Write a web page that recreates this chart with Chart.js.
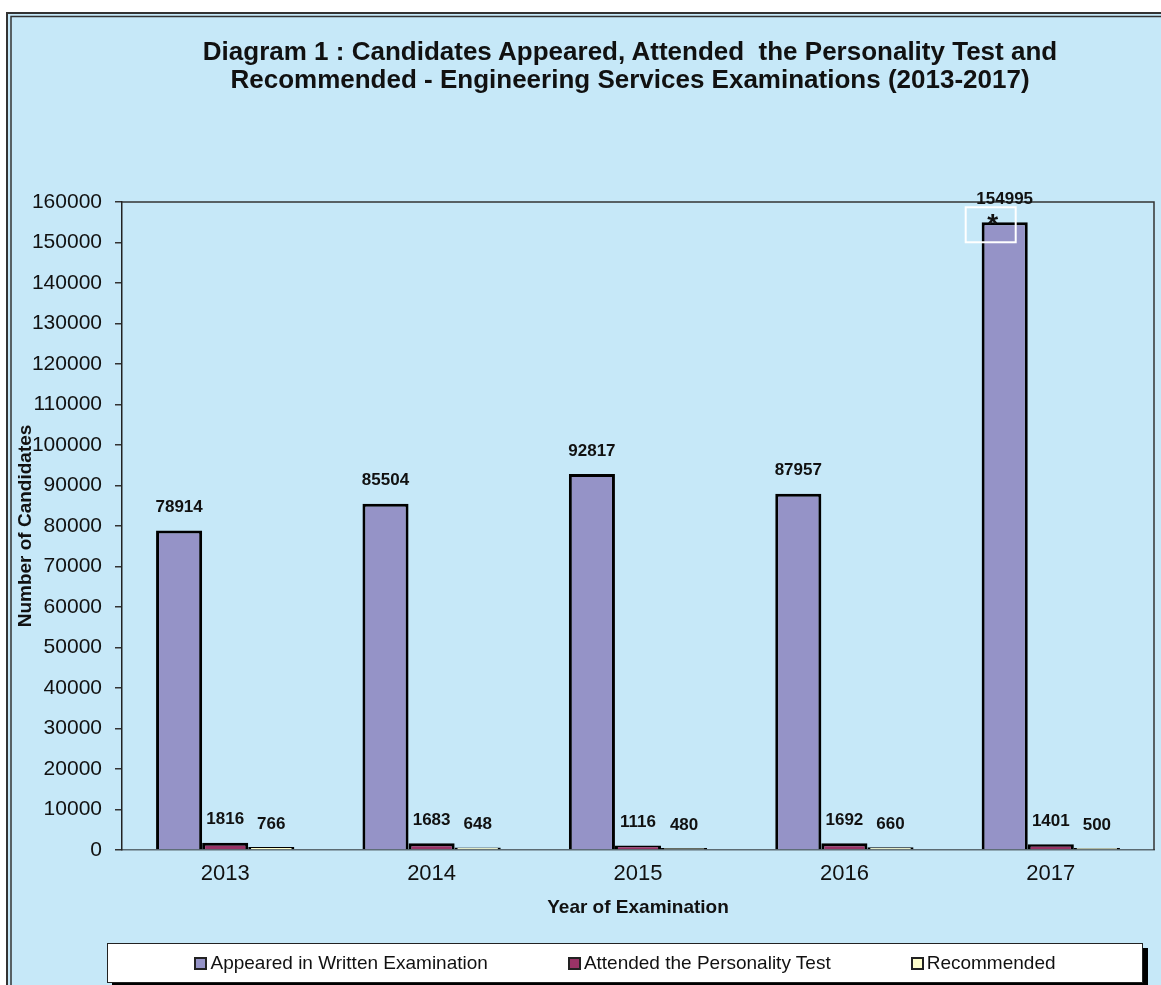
<!DOCTYPE html>
<html lang="en">
<head>
<meta charset="UTF-8">
<title>Diagram 1 - Engineering Services Examinations</title>
<script src="https://cdn.jsdelivr.net/npm/chart.js@4.4.0/dist/chart.umd.min.js"></script>
<style>
  body { margin: 0; background: #fff; font-family: "Liberation Sans", Arial, sans-serif; }
  .quadro { position: relative; width: 1161px; height: 985px; overflow: hidden; }
  #grafico { position: absolute; left: 0; top: 0; }
  .titulo {
    position: absolute; left: 80px; top: 37px; width: 1100px;
    text-align: center; font-weight: bold; font-size: 26px; line-height: 28px;
    white-space: pre; color: #111;
  }
  .legenda {
    position: absolute; left: 107px; top: 943px; width: 1036px; height: 40px;
    box-sizing: border-box; background: #fff; border: 1px solid #222;
    box-shadow: 5px 5px 0 #000;
    display: flex; justify-content: center; align-items: center; gap: 80px;
    font-size: 19px; color: #111;
  }
  .legenda-item { display: flex; align-items: center; }
  .legenda-cor { width: 9px; height: 9px; border: 2px solid #222; margin-right: 3px; }
</style>
</head>
<body>
<div class="quadro">
  <canvas id="grafico" width="1161" height="985"></canvas>
  <div class="titulo">Diagram 1 : Candidates Appeared, Attended  the Personality Test and
Recommended - Engineering Services Examinations (2013-2017)</div>
  <div class="legenda" id="legenda"></div>
</div>
<script>
// Dados do gráfico
const anos = ['2013', '2014', '2015', '2016', '2017'];
const compareceram = [78914, 85504, 92817, 87957, 154995];
const entrevista = [1816, 1683, 1116, 1692, 1401];
const recomendados = [766, 648, 480, 660, 500];

const fonte = '"Liberation Sans", Arial, sans-serif';

// Fundo azul claro e moldura dupla
const fundoPlugin = {
  id: 'fundo',
  beforeDraw(chart) {
    const { ctx, width, height } = chart;
    ctx.save();
    ctx.fillStyle = '#fff';
    ctx.fillRect(0, 0, width, height);
    ctx.fillStyle = '#c6e8f8';
    ctx.fillRect(6, 12, width, height);
    ctx.strokeStyle = '#333';
    ctx.lineWidth = 2;
    ctx.strokeRect(7, 13, width + 20, height + 20);
    ctx.lineWidth = 1.5;
    ctx.strokeRect(11, 16.5, width + 20, height + 20);
    ctx.restore();
  },
  // linhas de cima e da direita da área do gráfico
  beforeDatasetsDraw(chart) {
    const { ctx, chartArea } = chart;
    ctx.save();
    ctx.strokeStyle = '#333';
    ctx.lineWidth = 1.5;
    ctx.beginPath();
    ctx.moveTo(chartArea.left, chartArea.top);
    ctx.lineTo(chartArea.right, chartArea.top);
    ctx.lineTo(chartArea.right, chartArea.bottom);
    ctx.stroke();
    ctx.restore();
  }
};

// Valores em cima das barras
const rotulosPlugin = {
  id: 'rotulos',
  afterDatasetsDraw(chart) {
    const ctx = chart.ctx;
    ctx.save();
    ctx.font = 'bold 17px ' + fonte;
    ctx.fillStyle = '#111';
    ctx.textAlign = 'center';
    ctx.textBaseline = 'middle';
    chart.data.datasets.forEach((ds, i) => {
      chart.getDatasetMeta(i).data.forEach((barra, j) => {
        ctx.fillText(ds.data[j], barra.x, barra.y - 23);
      });
    });

    // marca de 2017 (caixa branca com asterisco)
    const barra = chart.getDatasetMeta(0).data[4];
    ctx.strokeStyle = '#fff';
    ctx.lineWidth = 2;
    ctx.strokeRect(barra.x - 39, barra.y - 15, 50, 35);
    ctx.font = 'bold 28px ' + fonte;
    ctx.textBaseline = 'alphabetic';
    ctx.fillText('*', barra.x - 12, barra.y + 11);
    ctx.restore();
  }
};

function montarLegenda(chart) {
  const legenda = document.getElementById('legenda');
  legenda.innerHTML = chart.data.datasets.map(ds => `
    <div class="legenda-item">
      <span class="legenda-cor" style="background:${ds.backgroundColor}"></span>${ds.label}
    </div>
  `).join('');
}

const ctx = document.getElementById('grafico').getContext('2d');
const grafico = new Chart(ctx, {
  type: 'bar',
  data: {
    labels: anos,
    datasets: [
      {
        label: 'Appeared in Written Examination',
        data: compareceram,
        backgroundColor: '#9593c7'
      },
      {
        label: 'Attended the Personality Test',
        data: entrevista,
        backgroundColor: '#993366'
      },
      {
        label: 'Recommended',
        data: recomendados,
        backgroundColor: '#ffffcc'
      }
    ]
  },
  options: {
    responsive: false,
    animation: false,
    events: [],
    layout: {
      padding: { top: 202, right: 7, bottom: 66, left: 0 }
    },
    datasets: {
      bar: {
        borderColor: '#000',
        borderWidth: 3,
        categoryPercentage: 0.67,
        barPercentage: 1.0
      }
    },
    scales: {
      x: {
        grid: { display: false, drawTicks: false },
        border: { display: true, color: '#5b6b73', width: 1.5 },
        ticks: {
          color: '#111',
          padding: 11,
          font: { family: fonte, size: 22 }
        },
        title: {
          display: true,
          text: 'Year of Examination',
          color: '#111',
          padding: { top: 0, bottom: 0 },
          font: { family: fonte, size: 19, weight: 'bold' }
        },
        afterFit(scale) { scale.height = 69; }
      },
      y: {
        min: 0,
        max: 160000,
        grid: {
          drawOnChartArea: false,
          drawTicks: true,
          tickLength: 7,
          color: '#333',
          lineWidth: 1.5
        },
        border: { display: true, color: '#222', width: 1.5 },
        ticks: {
          stepSize: 10000,
          color: '#111',
          padding: 13,
          font: { family: fonte, size: 21 },
          callback: valor => String(valor)
        },
        title: {
          display: true,
          text: 'Number of Candidates',
          color: '#111',
          padding: { top: 14, bottom: 0 },
          font: { family: fonte, size: 19, weight: 'bold' }
        },
        afterFit(scale) { scale.width = 122; }
      }
    },
    plugins: {
      legend: { display: false },
      title: { display: false },
      tooltip: { enabled: false }
    }
  },
  plugins: [fundoPlugin, rotulosPlugin]
});

montarLegenda(grafico);
</script>
</body>
</html>
